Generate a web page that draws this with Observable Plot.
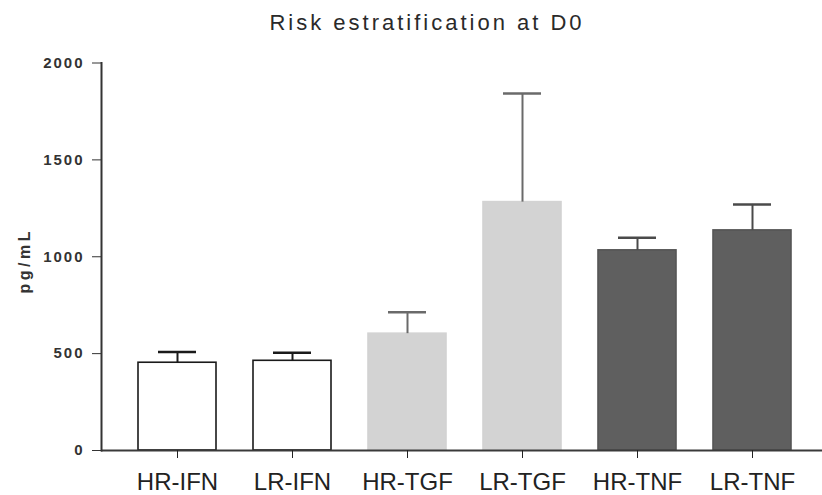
<!DOCTYPE html>
<html><head><meta charset="utf-8">
<script src="https://cdn.jsdelivr.net/npm/d3@7"></script>
<script src="https://cdn.jsdelivr.net/npm/@observablehq/plot@0.6"></script>
<style>
body{margin:0;background:#fff;}
#chart svg{display:block;}
</style></head><body><div id="chart"></div>
<script>
const categories = ["HR-IFN","LR-IFN","HR-TGF","LR-TGF","HR-TNF","LR-TNF"];
const means = [453, 463, 603, 1282, 1033, 1136];
const uppers = [508, 505, 714, 1842, 1098, 1270];
const groups = ["IFN","IFN","TGF","TGF","TNF","TNF"];
const yTicks = [0, 500, 1000, 1500, 2000];
const title = "Risk estratification at D0";
const yLabel = "pg/mL";

const data = categories.map((c, i) => ({name: c, mean: means[i], upper: uppers[i], group: groups[i]}));
const fillOf = {IFN: "#ffffff", TGF: "#d3d3d3", TNF: "#5f5f5f"};
const strokeOf = {IFN: "#1a1a1a", TGF: "#d3d3d3", TNF: "#555555"};
const errOf = {IFN: "#1a1a1a", TGF: "#6a6a6a", TNF: "#4a4a4a"};

const plot = Plot.plot({
  width: 822, height: 495,
  marginLeft: 101, marginRight: 0, marginTop: 62.5, marginBottom: 45,
  style: {fontFamily: "'Liberation Sans', Arial, sans-serif", background: "#fff", overflow: "visible"},
  x: {domain: categories, range: [119.5, 809.5], paddingInner: 0.32, paddingOuter: 0.16, align: 0.5, label: null},
  y: {domain: [0, 2000], label: null},
  color: {type: "identity"},
  marks: [
    Plot.barY(data, {x: "name", y: "mean", fill: d => fillOf[d.group], stroke: d => strokeOf[d.group], strokeWidth: 1.6}),
    Plot.ruleX(data, {x: "name", y1: "mean", y2: "upper", stroke: d => errOf[d.group], strokeWidth: 2}),
    Plot.tickY(data, {x: "name", y: "upper", stroke: d => errOf[d.group], strokeWidth: 2.5, insetLeft: 20, insetRight: 20}),
    Plot.ruleY([0], {stroke: "#3a3a3a", strokeWidth: 2}),
    Plot.frame({anchor: "left", stroke: "#333", strokeWidth: 2}),
    Plot.axisY({ticks: yTicks, tickFormat: d => String(d), tickSize: 9, tickPadding: 8, fontSize: 15, fontWeight: "bold", color: "#333", label: null}),
    Plot.axisX({tickSize: 8, tickPadding: 14, fontSize: 24, color: "#222", label: null}),
    Plot.text([title], {frameAnchor: "top", dx: -35, dy: -40, lineAnchor: "middle", fontSize: 22, fill: "#2a2a2a"}),
    Plot.text([yLabel], {frameAnchor: "left", dx: -77, dy: 4, rotate: -90, textAnchor: "middle", lineAnchor: "middle", fontSize: 16, fontWeight: "bold", fill: "#333"})
  ]
});
document.getElementById("chart").appendChild(plot);
const svg = d3.select(plot);
svg.selectAll('g[aria-label="y-axis tick label"] text').style("letter-spacing", "2px");
svg.selectAll('g[aria-label="text"] text').each(function() {
  const t = d3.select(this);
  if (t.text() === title) t.style("letter-spacing", "3px");
  if (t.text() === yLabel) t.style("letter-spacing", "3.5px");
});
</script></body></html>
